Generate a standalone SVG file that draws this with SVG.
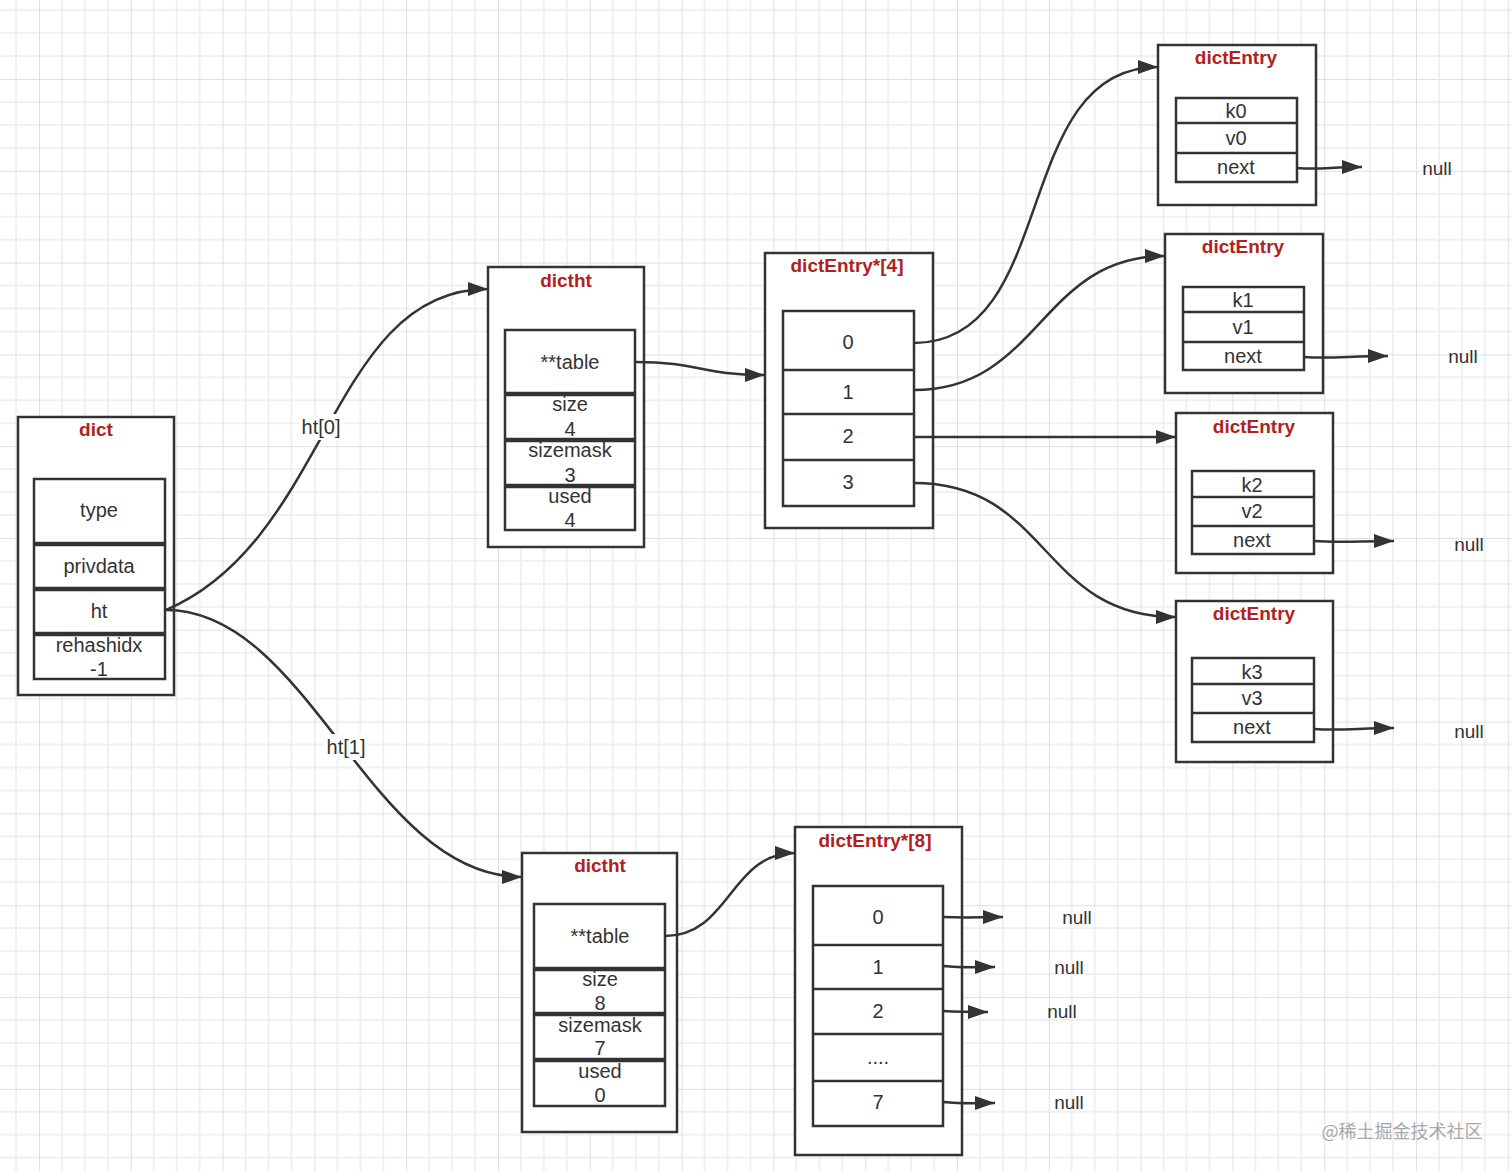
<svg xmlns="http://www.w3.org/2000/svg" width="1512" height="1171" viewBox="0 0 1512 1171">
<defs>
<pattern id="grid" patternUnits="userSpaceOnUse" x="39" y="79" width="91.8" height="91.8">
<path d="M22.95,0V91.8M45.9,0V91.8M68.85,0V91.8M0,22.95H91.8M0,45.9H91.8M0,68.85H91.8" stroke="#ececec" stroke-width="1.5" fill="none"/>
<path d="M0,0V91.8M0,0H91.8" stroke="#e0e0e0" stroke-width="2" fill="none"/>
</pattern>
<marker id="arr" markerUnits="userSpaceOnUse" markerWidth="20" markerHeight="14" refX="20" refY="7" orient="auto" viewBox="0 0 20 14">
<path d="M0,0L20,7L0,14z" fill="#333"/>
</marker>
</defs>
<style>
.box{fill:#fff;stroke:#333;stroke-width:2.5}
.cell{fill:#fff;stroke:#333;stroke-width:2.5}
.sep{stroke:#333;stroke-width:2.5}
.t{font-family:"Liberation Sans",Arial,sans-serif;font-size:20px;fill:#333;text-anchor:middle}
.h{font-family:"Liberation Sans",Arial,sans-serif;font-size:19px;font-weight:bold;fill:#b0221f;text-anchor:middle}
.n{font-family:"Liberation Sans",Arial,sans-serif;font-size:19px;fill:#333;text-anchor:middle}
.ca{fill:none;stroke:#333;stroke-width:2.5;marker-end:url(#arr)}
</style>
<rect x="0" y="0" width="1512" height="1171" fill="#fff"/>
<rect x="0" y="0" width="1512" height="1171" fill="url(#grid)"/>

<g id="dict">
<rect class="box" x="18" y="417" width="156" height="278"/>
<text class="h" x="96" y="436">dict</text>
<rect class="cell" x="34" y="479" width="131" height="64"/>
<rect class="cell" x="34" y="545" width="131" height="43"/>
<rect class="cell" x="34" y="590" width="131" height="43"/>
<rect class="cell" x="34" y="635" width="131" height="44"/>
<text class="t" x="99" y="517">type</text>
<text class="t" x="99" y="573">privdata</text>
<text class="t" x="99" y="618">ht</text>
<text class="t" x="99" y="652">rehashidx</text>
<text class="t" x="99" y="676">-1</text>
</g>

<g id="dictht0">
<rect class="box" x="488" y="267" width="156" height="280"/>
<text class="h" x="566" y="287">dictht</text>
<rect class="cell" x="505" y="330" width="130" height="63"/>
<rect class="cell" x="505" y="395" width="130" height="44"/>
<rect class="cell" x="505" y="441" width="130" height="44"/>
<rect class="cell" x="505" y="487" width="130" height="43"/>
<text class="t" x="570" y="369">**table</text>
<text class="t" x="570" y="411">size</text>
<text class="t" x="570" y="436">4</text>
<text class="t" x="570" y="457">sizemask</text>
<text class="t" x="570" y="482">3</text>
<text class="t" x="570" y="503">used</text>
<text class="t" x="570" y="527">4</text>
</g>

<g id="table4">
<rect class="box" x="765" y="253" width="168" height="275"/>
<text class="h" x="847" y="272">dictEntry*[4]</text>
<rect class="cell" x="783" y="311" width="131" height="195"/>
<path class="sep" d="M783,370H914M783,414H914M783,460H914"/>
<text class="t" x="848" y="349">0</text>
<text class="t" x="848" y="399">1</text>
<text class="t" x="848" y="443">2</text>
<text class="t" x="848" y="489">3</text>
</g>

<g id="entry0">
<rect class="box" x="1158" y="45" width="158" height="160"/>
<text class="h" x="1236" y="64">dictEntry</text>
<rect class="cell" x="1176" y="98" width="121" height="84"/>
<path class="sep" d="M1176,123H1297M1176,153H1297"/>
<text class="t" x="1236" y="118">k0</text>
<text class="t" x="1236" y="145">v0</text>
<text class="t" x="1236" y="174">next</text>
<text class="n" x="1437" y="175">null</text>
</g>

<g id="entry1">
<rect class="box" x="1165" y="234" width="158" height="159"/>
<text class="h" x="1243" y="253">dictEntry</text>
<rect class="cell" x="1183" y="287" width="121" height="83"/>
<path class="sep" d="M1183,312H1304M1183,342H1304"/>
<text class="t" x="1243" y="307">k1</text>
<text class="t" x="1243" y="334">v1</text>
<text class="t" x="1243" y="363">next</text>
<text class="n" x="1463" y="363">null</text>
</g>

<g id="entry2">
<rect class="box" x="1176" y="413" width="157" height="160"/>
<text class="h" x="1254" y="433">dictEntry</text>
<rect class="cell" x="1192" y="471" width="122" height="83"/>
<path class="sep" d="M1192,497H1314M1192,526H1314"/>
<text class="t" x="1252" y="492">k2</text>
<text class="t" x="1252" y="518">v2</text>
<text class="t" x="1252" y="547">next</text>
<text class="n" x="1469" y="551">null</text>
</g>

<g id="entry3">
<rect class="box" x="1176" y="601" width="157" height="161"/>
<text class="h" x="1254" y="620">dictEntry</text>
<rect class="cell" x="1192" y="658" width="122" height="84"/>
<path class="sep" d="M1192,684H1314M1192,713H1314"/>
<text class="t" x="1252" y="679">k3</text>
<text class="t" x="1252" y="705">v3</text>
<text class="t" x="1252" y="734">next</text>
<text class="n" x="1469" y="738">null</text>
</g>

<g id="dictht1">
<rect class="box" x="522" y="853" width="155" height="279"/>
<text class="h" x="600" y="872">dictht</text>
<rect class="cell" x="534" y="904" width="131" height="64"/>
<rect class="cell" x="534" y="970" width="131" height="43"/>
<rect class="cell" x="534" y="1015" width="131" height="44"/>
<rect class="cell" x="534" y="1061" width="131" height="45"/>
<text class="t" x="600" y="943">**table</text>
<text class="t" x="600" y="986">size</text>
<text class="t" x="600" y="1010">8</text>
<text class="t" x="600" y="1032">sizemask</text>
<text class="t" x="600" y="1055">7</text>
<text class="t" x="600" y="1078">used</text>
<text class="t" x="600" y="1102">0</text>
</g>

<g id="table8">
<rect class="box" x="795" y="827" width="167" height="328"/>
<text class="h" x="875" y="847">dictEntry*[8]</text>
<rect class="cell" x="813" y="886" width="130" height="240"/>
<path class="sep" d="M813,945H943M813,989H943M813,1034H943M813,1081H943"/>
<text class="t" x="878" y="924">0</text>
<text class="t" x="878" y="974">1</text>
<text class="t" x="878" y="1018">2</text>
<text class="t" x="878" y="1064">....</text>
<text class="t" x="878" y="1109">7</text>
<text class="n" x="1077" y="924">null</text>
<text class="n" x="1069" y="974">null</text>
<text class="n" x="1062" y="1018">null</text>
<text class="n" x="1069" y="1109">null</text>
</g>

<g id="connectors">
<path class="ca" d="M166,610 C330,540 330,289 488,289"/>
<path class="ca" d="M166,610 C310,610 370,877 522,877"/>
<path class="ca" d="M635,362 C700,362 700,375 765,375"/>
<path class="ca" d="M665,936 C730,936 730,853 795,853"/>
<path class="ca" d="M914,343 C1060,343 1010,67 1158,67"/>
<path class="ca" d="M914,390 C1040,390 1040,256 1165,256"/>
<path class="ca" d="M914,437 L1176,437"/>
<path class="ca" d="M914,483 C1050,483 1040,617 1176,617"/>
<path class="ca" d="M1297,168 C1320,170 1330,167 1362,167"/>
<path class="ca" d="M1304,357 C1330,359 1350,356 1388,356"/>
<path class="ca" d="M1314,541 C1340,543 1360,541 1394,541"/>
<path class="ca" d="M1314,729 C1340,731 1360,728 1394,728"/>
<path class="ca" d="M943,917 C970,918 980,917 1003,917"/>
<path class="ca" d="M943,966 C965,968 975,967 995,967"/>
<path class="ca" d="M943,1011 C960,1012 970,1012 988,1012"/>
<path class="ca" d="M943,1102 C965,1104 975,1103 995,1103"/>
<rect x="298" y="414" width="46" height="26" fill="#fff"/>
<text class="t" x="321" y="434">ht[0]</text>
<rect x="323" y="734" width="46" height="26" fill="#fff"/>
<text class="t" x="346" y="754">ht[1]</text>
</g>

<text x="1402" y="1138" font-family="'Noto Sans CJK SC',sans-serif" font-size="18" fill="#a8a8a8" text-anchor="middle">@稀土掘金技术社区</text>
</svg>
